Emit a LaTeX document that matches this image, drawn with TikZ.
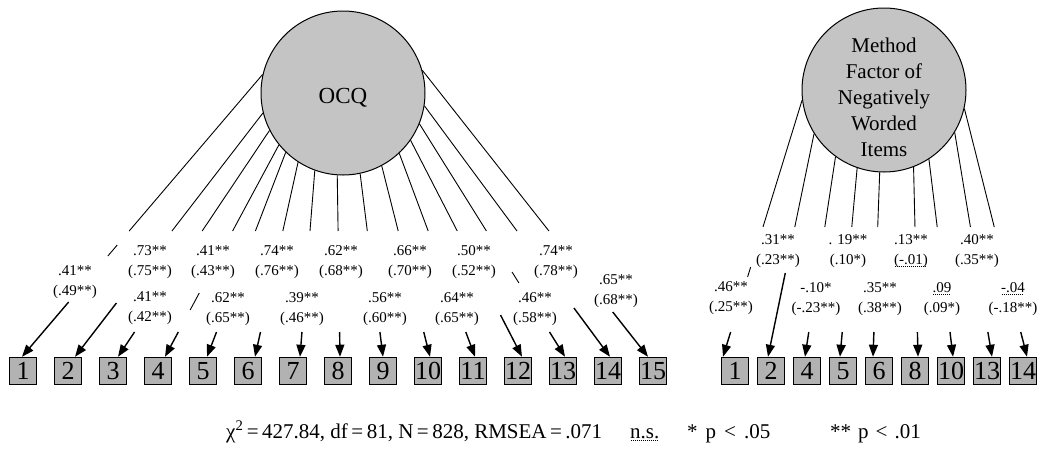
\documentclass[tikz,border=0pt]{standalone}
\usepackage{fontspec}
\setmainfont{Liberation Serif}
\usetikzlibrary{calc,arrows.meta}

% dotted underline
\newcommand\dotul[1]{\leavevmode\setbox0=\hbox{#1}\rlap{\lower2.8pt\hbox to\wd0{\leaders\hbox to 2pt{\hss\vrule height 0.7pt width 1pt\hss}\hfill}}\box0}

% loading line pieces; #1 factor node, #2 its centre (image y), #3 border angle, #4 target point, #5/#6 image y values
\newcommand\Lfrac[4]{\pgfmathsetmacro\Ye{#2-82.5*sin(#3)}\pgfmathsetmacro#1{(#4-\Ye)/(356.75-\Ye)}}
\newcommand\Lup[5]{\Lfrac{\Tb}{#2}{#3}{#5}\draw[upln] (#1.#3) -- ($(#1.#3)!\Tb!(#4)$);}
\newcommand\Llow[5]{\Lfrac{\Ta}{#2}{#3}{#5}\draw[arln] ($(#1.#3)!\Ta!(#4)$) -- (#4);}
\newcommand\Lstub[6]{\Lfrac{\Ta}{#2}{#3}{#5}\Lfrac{\Tb}{#2}{#3}{#6}\draw[upln] ($(#1.#3)!\Ta!(#4)$) -- ($(#1.#3)!\Tb!(#4)$);}

\tikzset{
  upln/.style={line width=0.9pt},
  arln/.style={line width=1.4pt,-{Triangle[length=12pt,width=9pt]}},
  factor/.style={circle,draw,line width=1pt,fill=black!23,minimum size=164pt,inner sep=0pt},
  item/.style={draw,line width=1.5pt,fill=black!30,minimum size=27pt,inner sep=0pt,font=\fontsize{26}{26}\selectfont},
  lab/.style={align=center,inner sep=0pt,font=\fontsize{15}{20}\selectfont},
  legend/.style={anchor=base west,inner sep=0pt,font=\fontsize{21}{24}\selectfont},
}

\begin{document}
\begin{tikzpicture}[x=1pt,y=-1pt]
\useasboundingbox (0,0) rectangle (1044,448);

% factors
\node[factor] (ocq) at (343,93) {};
\node[font=\fontsize{23}{23}\selectfont] (ocqt) at (343,98) {OCQ};
\node[factor] (mf) at (884,90) {};
\node[align=center,font=\fontsize{21}{26}\selectfont] (mft) at (884,97) {Method\\Factor of\\Negatively\\Worded\\Items};

% items
\foreach \i in {1,...,15} \node[item] (b\i) at ({23+45*(\i-1)},371) {\i};
\foreach \j [count=\k from 0] in {1,2,4,5,6,8,10,13,14} \node[item] (r\j) at ({735+36*\k},371) {\j};

% OCQ loadings
\foreach \i/\ang/\sh/\ys in {1/167/-1/302, 2/194/7/303, 3/207/5/332, 4/219/7/332, 5/226/4/332,
  6/237/7/332, 7/250/7/332, 8/266/2/332, 9/282/0/332, 10/298/2/332, 11/313/2/332,
  12/325/4/315, 13/338/2/332, 14/351/2/308, 15/16/-5/312}{
  \Lup{ocq}{93}{\ang}{[xshift=\sh pt]b\i.north}{231}
  \Llow{ocq}{93}{\ang}{[xshift=\sh pt]b\i.north}{\ys}
}
\Lstub{ocq}{93}{167}{[xshift=-1pt]b1.north}{245}{256}
\Lstub{ocq}{93}{219}{[xshift=7pt]b4.north}{293}{310}
\Lstub{ocq}{93}{338}{[xshift=2pt]b13.north}{272}{283}

% method factor loadings
\foreach \j/\ang/\sh/\ys in {1/187/-12/332, 2/212/-3/273, 4/234/-2/332, 5/251/-3/332, 6/267/-6/332,
  8/291/3/332, 10/303/2/332, 13/329/5/332, 14/347/4/332}{
  \Lup{mf}{90}{\ang}{[xshift=\sh pt]r\j.north}{227}
  \Llow{mf}{90}{\ang}{[xshift=\sh pt]r\j.north}{\ys}
}
\Lstub{mf}{90}{187}{[xshift=-12pt]r1.north}{267}{277}

% OCQ labels
\node[lab] (l1) at (75,282) {.41**\\(.49**)};
\node[lab] (l2) at (150,262) {.73**\\(.75**)};
\node[lab] (l3) at (150,308) {.41**\\(.42**)};
\node[lab] (l4) at (213,262) {.41**\\(.43**)};
\node[lab] (l5) at (228,309) {.62**\\(.65**)};
\node[lab] (l6) at (277,262) {.74**\\(.76**)};
\node[lab] (l7) at (302,309) {.39**\\(.46**)};
\node[lab] (l8) at (341,262) {.62**\\(.68**)};
\node[lab] (l9) at (385,309) {.56**\\(.60**)};
\node[lab] (l10) at (410,262) {.66**\\(.70**)};
\node[lab] (l11) at (457,309) {.64**\\(.65**)};
\node[lab] (l12) at (474,262) {.50**\\(.52**)};
\node[lab] (l13) at (535,309) {.46**\\(.58**)};
\node[lab] (l14) at (556,262) {.74**\\(.78**)};
\node[lab] (l15) at (616,291) {.65**\\(.68**)};

% method factor labels
\node[lab] (m1) at (731,298) {.46**\\(.25**)};
\node[lab] (m2) at (778,251) {.31**\\(.23**)};
\node[lab] (m4) at (816,299) {-.10*\\(-.23**)};
\node[lab] (m5) at (848,251) {. 19**\\(.10*)};
\node[lab] (m6) at (880,299) {.35**\\(.38**)};
\node[lab] (m8) at (911,251) {.13**\\\dotul{(-.01)}};
\node[lab] (m10) at (942,299) {\dotul{.09}\\(.09*)};
\node[lab] (m13) at (977,251) {.40**\\(.35**)};
\node[lab] (m14) at (1013,299) {\dotul{-.04}\\(-.18**)};

% legend
\node[legend] (fit) at (226,438) {χ\textsuperscript{2}\,=\,427.84, df\,=\,81, N\,=\,828, RMSEA\,=\,.071};
\node[legend] (ns) at (630,438) {\dotul{n.s.}};
\node[legend] (p05) at (687,438) {*\hspace{8pt}p\hspace{8pt}<\hspace{8pt}.05};
\node[legend] (p01) at (830,438) {**\hspace{7pt}p\hspace{7pt}<\hspace{7pt}.01};
\end{tikzpicture}
\end{document}
